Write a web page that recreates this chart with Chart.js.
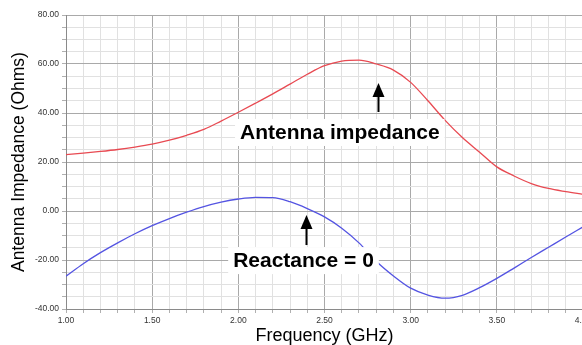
<!DOCTYPE html>
<html>
<head>
<meta charset="utf-8">
<script src="https://cdn.jsdelivr.net/npm/chart.js@4.4.1/dist/chart.umd.min.js"></script>
<style>
  html, body { margin: 0; padding: 0; background: #fff; overflow: hidden; width: 582px; height: 345px; }
  #wrap { position: relative; width: 600px; height: 345px; }
</style>
</head>
<body>
<div id="wrap"><canvas id="c" width="600" height="345"></canvas></div>
<script>
// ---- data ----
const frequencyGHz = [1.0,1.1,1.2,1.3,1.4,1.5,1.6,1.7,1.8,1.9,2.0,2.1,2.2,2.3,2.4,2.5,2.6,2.7,2.8,2.9,3.0,3.1,3.2,3.3,3.4,3.5,3.6,3.7,3.8,3.9,4.0];
const resistanceOhms = [23,23.6,24.3,25.1,26.1,27.3,28.9,30.9,33.3,36.7,40.3,44,47.8,51.8,55.8,59.3,61.2,61.6,60,57.5,52.5,45,37,30,24,18,14.3,11.2,9.2,7.9,6.8];
const reactanceOhms = [-26.6,-21.5,-17,-13,-9.3,-6,-3.1,-0.5,1.8,3.6,4.9,5.6,5.5,3.8,1,-2.4,-7,-13,-20.5,-26.5,-31.5,-34.3,-35.6,-34.4,-31.3,-27.5,-23.3,-19,-14.8,-10.6,-6.5];
const xTickLabelsEvery = 0.5;   // labelled x ticks: 1.00, 1.50 ... 4.00
const yTickLabelsEvery = 20;    // labelled y ticks: -40.00 ... 80.00
const annotationTexts = ['Antenna impedance', 'Reactance = 0'];

// ---- annotation placement (data units) ----
const textNotes = [
  { text: annotationTexts[0], x: 2.01, y: 29.4 },
  { text: annotationTexts[1], x: 1.97, y: -22.9 }
];
const arrowNotes = [
  { x: 2.81, tip: 52.2, base: 40.4 },
  { x: 2.39, tip: -1.6, base: -13.9 }
];

const isMult = (v, m) => Math.abs(v / m - Math.round(v / m)) < 1e-6;

const annotationPlugin = {
  id: 'notes',
  afterDatasetsDraw(chart) {
    const ctx = chart.ctx, xs = chart.scales.x, ys = chart.scales.y;
    ctx.save();
    ctx.font = 'bold 21px "Liberation Sans", Arial, sans-serif';
    ctx.textBaseline = 'alphabetic';
    ctx.textAlign = 'left';
    textNotes.forEach(n => {
      const px = xs.getPixelForValue(n.x), py = ys.getPixelForValue(n.y);
      const w = ctx.measureText(n.text).width;
      ctx.fillStyle = '#fff';
      ctx.fillRect(px - 5, py - 20, w + 10, 27);
      ctx.fillStyle = '#000';
      ctx.fillText(n.text, px, py);
    });
    arrowNotes.forEach(a => {
      const px = Math.round(xs.getPixelForValue(a.x)) + 0.5;
      const tip = ys.getPixelForValue(a.tip), base = ys.getPixelForValue(a.base);
      ctx.strokeStyle = '#000';
      ctx.lineWidth = 2;
      ctx.beginPath();
      ctx.moveTo(px, base);
      ctx.lineTo(px, tip + 12);
      ctx.stroke();
      ctx.fillStyle = '#000';
      ctx.beginPath();
      ctx.moveTo(px, tip);
      ctx.lineTo(px - 6, tip + 14);
      ctx.lineTo(px + 6, tip + 14);
      ctx.closePath();
      ctx.fill();
    });
    ctx.restore();
  }
};

const gridColor = (every) => (c) => (c.tick && isMult(c.tick.value, every)) ? '#a9a9a9' : '#e1e1e1';
const tickFont = { family: '"Liberation Sans", Arial, sans-serif', size: 8.5 };

new Chart(document.getElementById('c'), {
  type: 'line',
  data: {
    datasets: [
      {
        label: 'Resistance',
        data: frequencyGHz.map((f, i) => ({ x: f, y: resistanceOhms[i] })),
        borderColor: 'rgb(232,74,82)',
        borderWidth: 1.3,
        pointRadius: 0,
        tension: 0.4,
        cubicInterpolationMode: 'monotone',
        fill: false
      },
      {
        label: 'Reactance',
        data: frequencyGHz.map((f, i) => ({ x: f, y: reactanceOhms[i] })),
        borderColor: 'rgb(84,84,226)',
        borderWidth: 1.3,
        pointRadius: 0,
        tension: 0.4,
        cubicInterpolationMode: 'monotone',
        fill: false
      }
    ]
  },
  options: {
    responsive: false,
    animation: false,
    devicePixelRatio: 1,
    layout: { padding: { top: 15, right: 17, left: 0, bottom: 0 } },
    plugins: { legend: { display: false }, tooltip: { enabled: false } },
    scales: {
      x: {
        type: 'linear',
        min: 1, max: 4,
        ticks: {
          stepSize: 0.1,
          autoSkip: false,
          maxRotation: 0,
          padding: 3,
          color: '#333',
          font: tickFont,
          callback: (v) => isMult(v, xTickLabelsEvery) ? Number(v).toFixed(2) : ''
        },
        grid: { color: gridColor(xTickLabelsEvery), tickColor: '#b0b0b0', tickLength: 4, lineWidth: 1 },
        border: { color: '#8a8a8a', width: 1 },
        title: {
          display: true,
          text: 'Frequency (GHz)',
          color: '#000',
          font: { family: '"Liberation Sans", Arial, sans-serif', size: 18, lineHeight: 1 },
          padding: { top: 0, bottom: 0 }
        },
        afterFit: (s) => { s.height = 36; }
      },
      y: {
        type: 'linear',
        min: -40, max: 80,
        ticks: {
          stepSize: 5,
          autoSkip: false,
          padding: 3,
          color: '#333',
          font: tickFont,
          callback: (v) => isMult(v, yTickLabelsEvery) ? Number(v).toFixed(2) : ''
        },
        grid: { color: gridColor(yTickLabelsEvery), tickColor: '#b0b0b0', tickLength: 4, lineWidth: 1 },
        border: { color: '#8a8a8a', width: 1 },
        title: {
          display: true,
          text: 'Antenna Impedance (Ohms)',
          color: '#000',
          font: { family: '"Liberation Sans", Arial, sans-serif', size: 17.5, lineHeight: 1 },
          padding: { top: 10, bottom: 0 }
        },
        afterFit: (s) => { s.width = 66; }
      }
    }
  },
  plugins: [annotationPlugin]
});
</script>
</body>
</html>
